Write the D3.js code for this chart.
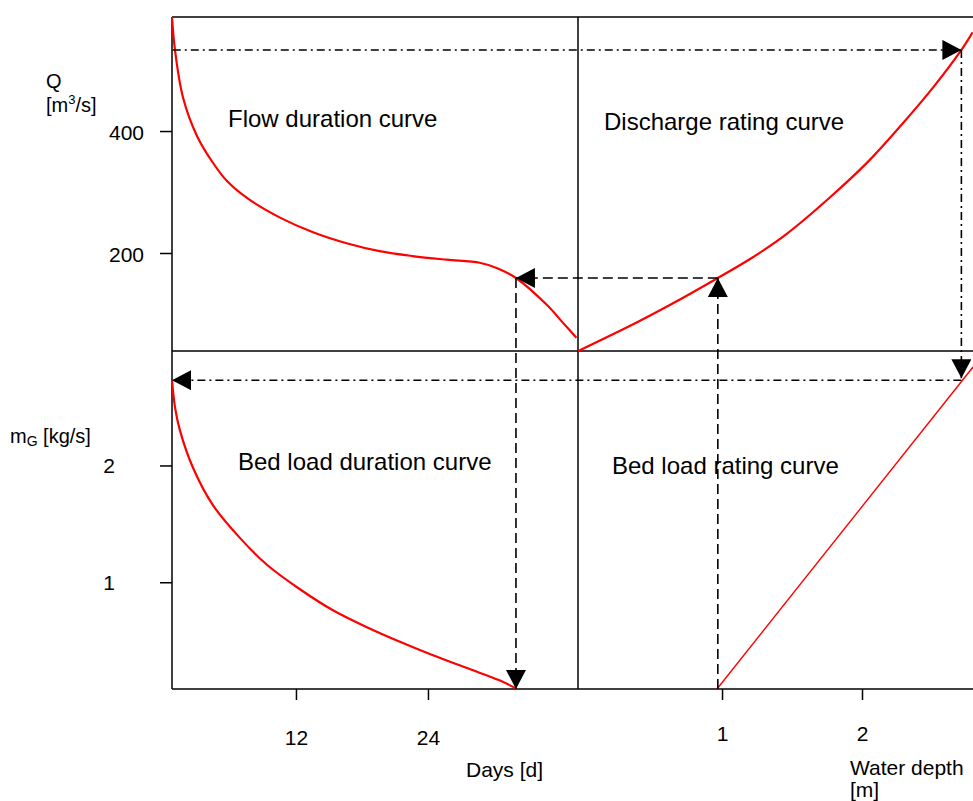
<!DOCTYPE html>
<html>
<head>
  <script src="https://d3js.org/d3.v7.min.js"></script>
  <style>
    body { margin: 0; background: #fff; }
    text { font-family: Arial, "Liberation Sans", sans-serif; fill: #000; }
    .frame { stroke: #000; stroke-width: 1.5; }
    .curve { fill: none; stroke: #f00; stroke-width: 2.2; }
    .thin { stroke-width: 1.4; }
    .dashdot { stroke: #000; stroke-width: 1.6; stroke-dasharray: 8,4,2,4; }
    .dashed { stroke: #000; stroke-width: 1.6; stroke-dasharray: 10,5; }
    .axis path.domain { display: none; }
    .axis line { stroke: #000; stroke-width: 1.5; }
    .axis text { font-size: 21px; }
    .title { font-size: 24px; }
    .label { font-size: 20px; }
  </style>
</head>
<body>
  <script>
    var width = 973,
        height = 801;

    // flow duration curve: days vs discharge
    var flowDays = [0.73, 1.0, 1.73, 3.0, 4.45, 5.73, 7.64, 10.55, 13.55, 16.6, 19.6, 22.6, 25.7, 28.7, 30.3, 32.0, 34.8, 36.3, 37.5];
    var flowQ    = [587, 533, 455, 392, 348, 318, 289, 258, 234, 216, 203, 195, 189, 184, 175, 159, 115, 85, 61];

    // discharge rating curve: water depth vs discharge
    var ratingDepth = [-0.03, 0.39, 0.63, 0.97, 1.22, 1.46, 1.77, 2.04, 2.27, 2.51, 2.71, 2.79];
    var ratingQ     = [39, 86, 115, 159, 193, 231, 291, 349, 407, 472, 533, 562];

    // bed load duration curve: days vs bed load
    var bedDays = [0.73, 1.0, 1.45, 2.64, 4.45, 6.9, 9.36, 12.36, 15.36, 18.45, 21.45, 24.45, 27.55, 30.5, 32.1];
    var bedM    = [2.73, 2.50, 2.30, 1.98, 1.66, 1.38, 1.15, 0.94, 0.76, 0.615, 0.49, 0.375, 0.265, 0.16, 0.086];

    // bed load rating curve: water depth vs bed load
    var bedRatingDepth = [0.964, 2.793];
    var bedRatingM     = [0.086, 2.843];

    // ticks
    var dayTicks = [12, 24];
    var depthTicks = [1, 2];
    var qTicks = [400, 200];
    var mTicks = [2, 1];

    // read-off examples
    var high = { dayStart: 0.8, dayEnd: 0.73, depth: 2.71, q: 533, m: 2.73 };
    var low  = { day: 32.0, depth: 0.97, q: 159, m: 0.086 };

    var x = d3.scaleLinear().domain([0.73, 37.64]).range([172, 578]);
    var xd = d3.scaleLinear().domain([-0.029, 2.793]).range([578, 973]);
    var yq = d3.scaleLinear().domain([39.3, 587]).range([351, 17]);
    var ym = d3.scaleLinear().domain([0.086, 2.98]).range([689, 351]);

    var svg = d3.select("body").append("svg").attr("width", width).attr("height", height);

    var defs = svg.append("defs");
    defs.append("marker")
      .attr("id", "arrow")
      .attr("viewBox", "0 0 19 20")
      .attr("refX", 19).attr("refY", 10)
      .attr("markerWidth", 19).attr("markerHeight", 20)
      .attr("markerUnits", "userSpaceOnUse")
      .attr("orient", "auto")
      .append("path").attr("d", "M0,0L19,10L0,20Z").attr("fill", "#000");

    // frame
    var frame = [
      [172, 17, 172, 689], [172, 17, 973, 17], [172, 351, 973, 351],
      [578, 17, 578, 689], [172, 689, 973, 689]
    ];
    svg.selectAll("line.frame").data(frame).enter().append("line")
      .attr("class", "frame")
      .attr("x1", function(d) { return d[0]; }).attr("y1", function(d) { return d[1]; })
      .attr("x2", function(d) { return d[2]; }).attr("y2", function(d) { return d[3]; });

    // axes
    var fmt = d3.format("d");
    svg.append("g").attr("class", "axis").attr("transform", "translate(172,0)")
      .call(d3.axisLeft(yq).tickValues(qTicks).tickFormat(fmt).tickSize(12).tickPadding(16))
      .selectAll("text").attr("dy", "0.4em");
    svg.append("g").attr("class", "axis").attr("transform", "translate(172,0)")
      .call(d3.axisLeft(ym).tickValues(mTicks).tickFormat(fmt).tickSize(12).tickPadding(45))
      .selectAll("text").attr("dy", "0.35em");
    svg.append("g").attr("class", "axis").attr("transform", "translate(0,689)")
      .call(d3.axisBottom(x).tickValues(dayTicks).tickFormat(fmt).tickSize(11).tickPadding(30));
    svg.append("g").attr("class", "axis").attr("transform", "translate(0,689)")
      .call(d3.axisBottom(xd).tickValues(depthTicks).tickFormat(fmt).tickSize(11).tickPadding(26));

    // curves
    var line = d3.line().curve(d3.curveCatmullRom.alpha(0.5));
    svg.append("path").attr("class", "curve")
      .attr("d", line(d3.zip(flowDays, flowQ).map(function(p) { return [x(p[0]), yq(p[1])]; })));
    svg.append("path").attr("class", "curve")
      .attr("d", line(d3.zip(ratingDepth, ratingQ).map(function(p) { return [xd(p[0]), yq(p[1])]; })));
    svg.append("path").attr("class", "curve")
      .attr("d", line(d3.zip(bedDays, bedM).map(function(p) { return [x(p[0]), ym(p[1])]; })));
    svg.append("path").attr("class", "curve thin")
      .attr("d", line(d3.zip(bedRatingDepth, bedRatingM).map(function(p) { return [xd(p[0]), ym(p[1])]; })));

    // read-off arrows
    var legs = [
      { c: "dashdot", a: [x(high.dayStart), yq(high.q)], b: [xd(high.depth), yq(high.q)] },
      { c: "dashdot", a: [xd(high.depth), yq(high.q)], b: [xd(high.depth), ym(high.m) - 2] },
      { c: "dashdot", a: [xd(high.depth), ym(high.m)], b: [x(high.dayEnd), ym(high.m)] },
      { c: "dashed", a: [xd(low.depth), ym(low.m)], b: [xd(low.depth), yq(low.q)] },
      { c: "dashed", a: [xd(low.depth), yq(low.q)], b: [x(low.day), yq(low.q)] },
      { c: "dashed", a: [x(low.day), yq(low.q)], b: [x(low.day), ym(low.m)] }
    ];
    svg.selectAll("line.leg").data(legs).enter().append("line")
      .attr("class", function(d) { return "leg " + d.c; })
      .attr("x1", function(d) { return d.a[0]; }).attr("y1", function(d) { return d.a[1]; })
      .attr("x2", function(d) { return d.b[0]; }).attr("y2", function(d) { return d.b[1]; })
      .attr("marker-end", "url(#arrow)");

    // titles
    var titles = [
      ["Flow duration curve", 228, 127],
      ["Discharge rating curve", 604, 130],
      ["Bed load duration curve", 238, 470],
      ["Bed load rating curve", 612, 474]
    ];
    svg.selectAll("text.title").data(titles).enter().append("text")
      .attr("class", "title")
      .attr("x", function(d) { return d[1]; }).attr("y", function(d) { return d[2]; })
      .text(function(d) { return d[0]; });

    // axis labels
    svg.append("text").attr("class", "label").attr("x", 46).attr("y", 88).text("Q");
    var ql = svg.append("text").attr("class", "label").attr("x", 46).attr("y", 112);
    ql.append("tspan").text("[m");
    ql.append("tspan").attr("dy", -8).style("font-size", "13px").text("3");
    ql.append("tspan").attr("dy", 8).text("/s]");

    var ml = svg.append("text").attr("class", "label").attr("x", 10).attr("y", 443);
    ml.append("tspan").text("m");
    ml.append("tspan").attr("dy", 3).style("font-size", "14px").text("G");
    ml.append("tspan").attr("dy", -3).text(" [kg/s]");

    svg.append("text").attr("class", "label").style("font-size", "21px").attr("x", 466).attr("y", 777).text("Days [d]");
    svg.append("text").attr("class", "label").style("font-size", "21px").attr("x", 850).attr("y", 775).text("Water depth");
    svg.append("text").attr("class", "label").style("font-size", "21px").attr("x", 850).attr("y", 797).text("[m]");
  </script>
</body>
</html>
